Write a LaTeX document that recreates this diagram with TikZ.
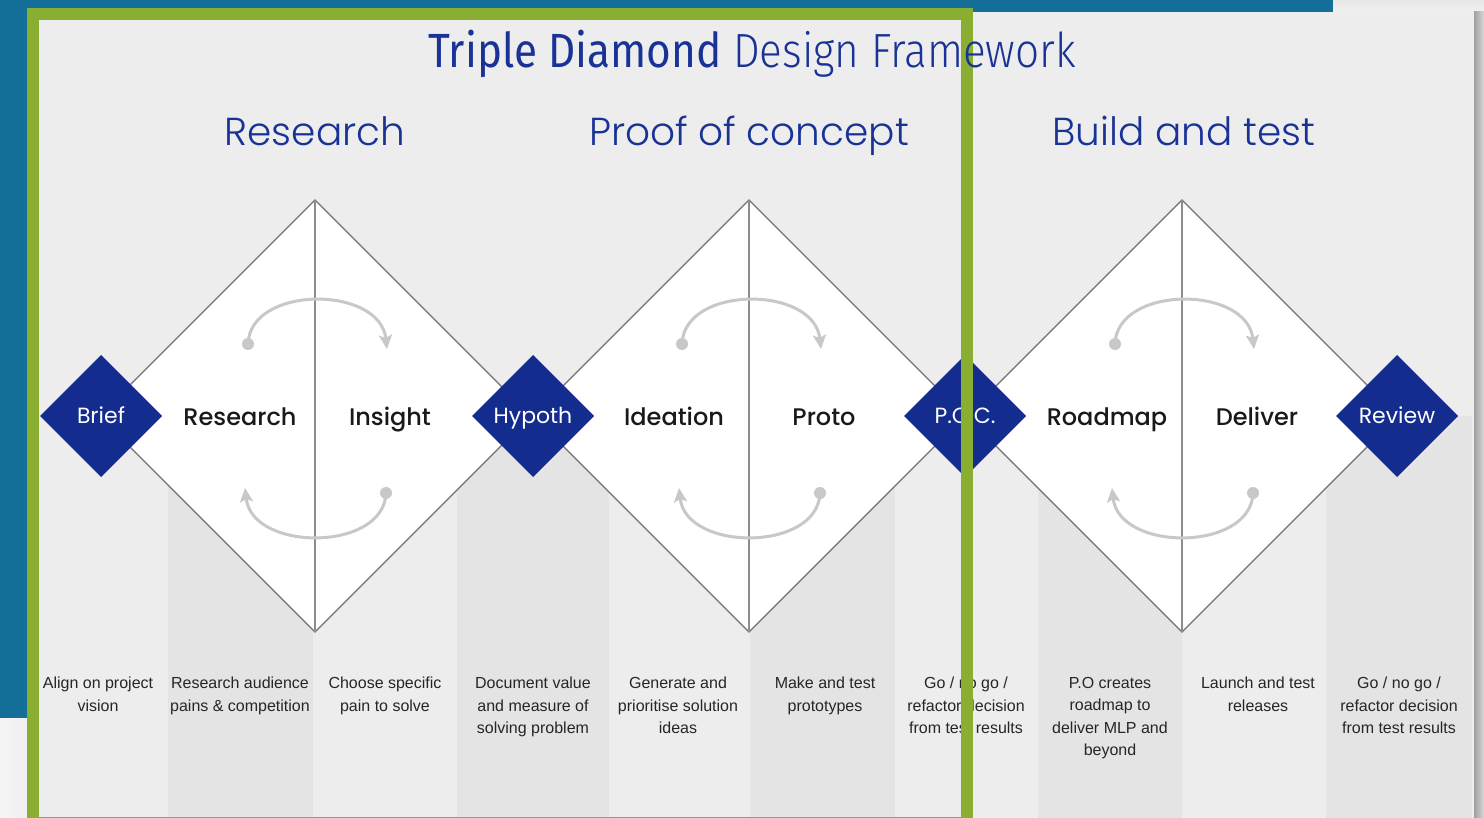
\documentclass[tikz,border=0pt]{standalone}
\usepackage{fontspec}
\setmainfont{Liberation Sans}
\newfontfamily\headfont{Poppins}
\newfontfamily\headlight{Poppins Light}
\newfontfamily\headmid{Poppins Medium}
\newfontfamily\titlefont{Fira Sans Light}
\newfontfamily\titlemid{Fira Sans}
\usetikzlibrary{shapes.geometric, arrows.meta, positioning}

\definecolor{slideblue}{RGB}{20,111,152}
\definecolor{framegreen}{RGB}{137,174,50}
\definecolor{panelgray}{RGB}{237,237,237}
\definecolor{colgray}{RGB}{228,228,228}
\definecolor{navy}{RGB}{19,44,142}
\definecolor{titleblue}{RGB}{24,50,150}
\definecolor{edgegray}{RGB}{112,112,112}
\definecolor{axisgray}{RGB}{140,140,140}
\definecolor{loopgray}{RGB}{200,200,200}

\tikzset{
  bigdiamond/.style={diamond, draw=edgegray, line width=1.3pt, fill=white,
    minimum size=432pt, inner sep=0pt, outer sep=0pt},
  gate/.style={diamond, fill=navy, text=white, minimum size=122pt,
    inner sep=0pt, outer sep=0pt, text height=16pt, text depth=0pt,
    font=\headfont\fontsize{22}{26}\selectfont},
  phase/.style={anchor=base, text=black!90, inner sep=0pt,
    font=\headmid\fontsize{24}{28}\selectfont},
  heading/.style={anchor=base, text=titleblue, inner sep=0pt,
    font=\headlight\fontsize{39}{44}\selectfont},
  note/.style={anchor=north, align=center, inner sep=0pt, text=black!85,
    font=\fontsize{16}{22.5}\selectfont},
  midline/.style={draw=axisgray, line width=2pt},
  cycle/.style={loopgray, line width=3pt,
    -{Stealth[length=14pt, width=13pt, inset=3pt]}},
}

\begin{document}
\begin{tikzpicture}[x=1pt, y=-1pt]
\useasboundingbox (0,0) rectangle (1484,818);
\clip (0,0) rectangle (1484,818);

% backdrop around the slide
\fill[slideblue] (0,0) rectangle (1484,818);
\fill[left color=blue!3!gray!8, right color=gray!12] (0,718) rectangle (27,818);
\fill[top color=gray!18, bottom color=gray!12] (1333,0) rectangle (1484,12);
\fill[left color=gray!75, right color=gray!30] (1474,12) rectangle (1484,818);

% slide panel + step columns
\fill[panelgray] (27,12) rectangle (1474,818);
\foreach \l/\r in {168/313, 457/609, 750/895, 1038/1182, 1326/1472}
  \fill[colgray] (\l,416) rectangle (\r,818);

% the three diamonds
\foreach \n/\x in {1/315, 2/749, 3/1182} {
  \node[bigdiamond] (D\n) at (\x,416) {};
  \draw[midline] (D\n.north) -- (D\n.south);
  \begin{scope}[shift={(D\n.center)}]
    \draw[cycle] (-67,-72) .. controls (-65,-131) and (65,-131) .. (72,-67);
    \draw[cycle] (71,77) .. controls (69,136) and (-63,136) .. (-70,72);
    \fill[loopgray] (-67,-72) circle (6pt) (71,77) circle (6pt);
  \end{scope}
}

% phase names inside the diamonds
\foreach \n/\a/\b in {1/Research/Insight, 2/Ideation/Proto, 3/Roadmap/Deliver} {
  \node[phase] (L\n) at ([xshift=-75pt, yshift=-9pt]D\n.center) {\a};
  \node[phase] (R\n) at ([xshift=75pt, yshift=-9pt]D\n.center) {\b};
}

% gates between the diamonds
\node[gate] (brief)  at (101,416)  {Brief};
\node[gate] (hypoth) at (533,416)  {Hypoth};
\node[gate] (poc)    at (965,416)  {P.O.C.};
\node[gate] (review) at (1397,416) {Review};

% section headings
\node[heading] (hres)   at (315,146)  {Research};
\node[heading] (hproof) at (749,146)  {Proof of concept};
\node[heading] (hbuild) at (1184,146) {Build and test};

% step descriptions
\foreach \x/\t in {
  98/{Align on project\\vision},
  240/{Research audience\\pains \& competition},
  385/{Choose specific\\pain to solve},
  533/{Document value\\and measure of\\solving problem},
  678/{Generate and\\prioritise solution\\ideas},
  825/{Make and test\\prototypes},
  966/{Go / no go /\\refactor decision\\from test results},
  1110/{P.O creates\\roadmap to\\deliver MLP and\\beyond},
  1258/{Launch and test\\releases},
  1399/{Go / no go /\\refactor decision\\from test results}}
  \node[note] at (\x,677) {\t};

% highlight frame
\draw[framegreen, line width=12pt] (33,14) rectangle (967,823);

% title
\node[anchor=base, inner sep=0pt, text=titleblue,
  font=\titlefont\fontsize{48}{54}\selectfont] (title) at (752,68)
  {\scalebox{0.88}[1]{{\titlemid Triple Diamond} Design Framework}};
\end{tikzpicture}
\end{document}
